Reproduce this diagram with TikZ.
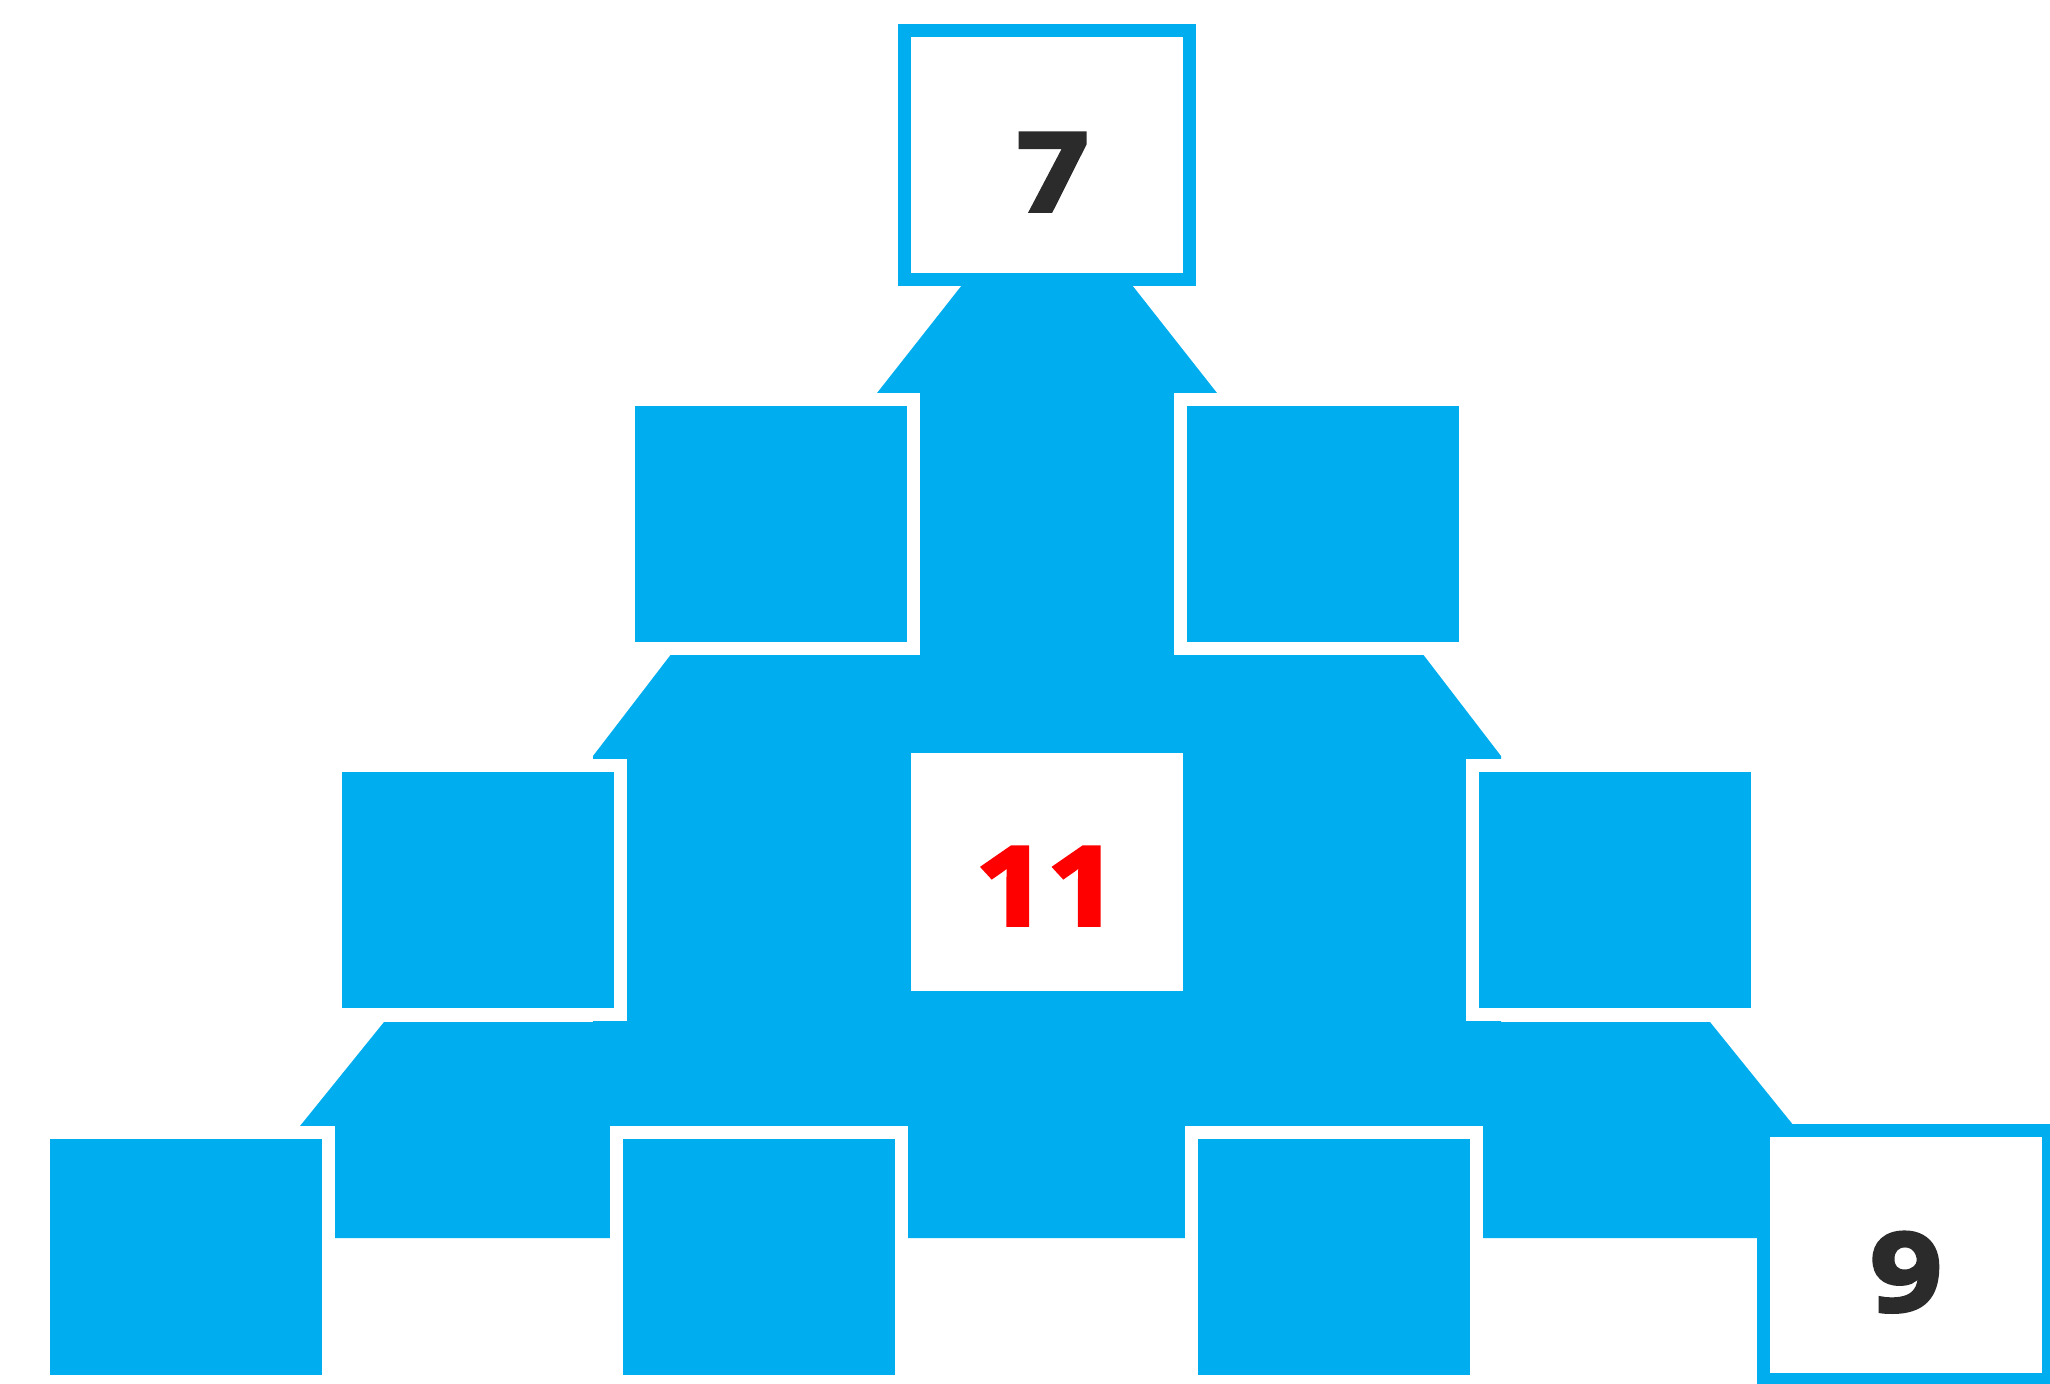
\documentclass[tikz,border=0pt]{standalone}
\usepackage{fontspec}
\newfontfamily\numfont[FakeStretch=1.15, BoldFeatures={FakeBold=3.5}]{Open Sans}
\usepackage{xcolor}
\usepackage{tikz}
\definecolor{brick}{HTML}{00AEEF}
\definecolor{ink}{HTML}{2B2B2B}
\definecolor{hot}{HTML}{FF0000}
\newcommand{\digits}{\numfont\fontsize{31}{36}\selectfont\bfseries}
\tikzset{
  cell/.style={rectangle, inner sep=0pt, minimum width=28.5mm, minimum height=24.9mm, line width=1.3mm, draw=white, fill=brick},
  given/.style={cell, draw=brick, fill=white},
  hint/.style={cell, draw=none, fill=white, minimum width=27.2mm, minimum height=23.8mm},
  num/.style={anchor=base, inner sep=0pt, font=\digits, text=ink},
  tierfill/.style={fill=brick},
}
\newcommand{\tier}[5]{\fill[tierfill] (1047-#2,#1) -- (1047+#2,#1) -- (1047+#4,#3) -- (1047+#4,#5) -- (1047-#4,#5) -- (1047-#4,#3) -- cycle;}
\newcommand{\cells}[1]{\foreach \x/\y/\nm in {#1} {\node[cell] (\nm) at (\x,\y) {};}}

\begin{document}
\begin{tikzpicture}[x=0.1mm,y=-0.1mm]
  \useasboundingbox (0,0) rectangle (2050,1383);
  \tier{285}{85}{393}{170}{653}
  \tier{653}{375}{756}{454}{1022}
  \tier{1022}{663}{1126}{747}{1238}
  \cells{771/524/b21, 1323/524/b22, 478/890/b31, 1615/890/b33, 186/1257/b41, 759/1257/b42, 1334/1257/b43}
  \node[given] (b11) at (1047,155) {};
  \node[hint] (b32) at (1047,872) {};
  \node[given] (b44) at (1906,1255) {};
  \node[num] (n7) at ([xshift=0.6mm, yshift=-5.6mm]b11.center) {7};
  \node[num, text=hot] (n11) at ([yshift=-5.3mm]b32.center) {11};
  \node[num] (n9) at ([yshift=-5.6mm]b44.center) {9};
\end{tikzpicture}
\end{document}
